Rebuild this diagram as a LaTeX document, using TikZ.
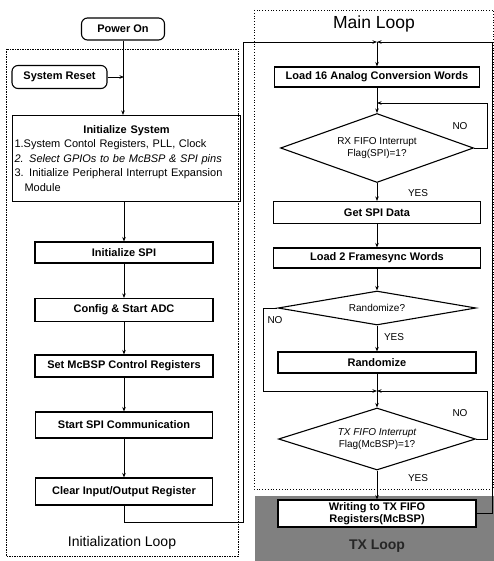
\documentclass[tikz,border=0pt]{standalone}
\usepackage{fontspec}
\setmainfont{Liberation Sans}
\usetikzlibrary{shapes.geometric,arrows.meta}
\tikzset{
  startbox/.style={draw, rounded corners=6pt, line width=1.1pt, inner sep=0pt,
    font=\bfseries\fontsize{11}{12}\selectfont},
  procbox/.style={draw, line width=1.1pt, inner sep=0pt, align=center,
    font=\bfseries\fontsize{11}{12.5}\selectfont},
  decision/.style={diamond, draw, line width=1.1pt, inner sep=0pt, aspect=2.8,
    align=center, font=\fontsize{10}{12.5}\selectfont},
  arr/.style={-{Stealth[length=4.5pt,width=3.5pt]}},
  lbl/.style={font=\fontsize{10}{11}\selectfont},
}
\begin{document}
\begin{tikzpicture}[x=1pt, y=-1pt, line width=0.8pt]
  \useasboundingbox (0,0) rectangle (494,561);
  % frames
  \draw[dashed, line width=0.7pt, dash pattern=on 1.5pt off 1pt] (6,49) rectangle (238,556);
  \draw[dotted, line width=0.8pt] (254,10) rectangle (493.5,489);
  \fill[black!50] (255,496) rectangle (494,561);
  \node[font=\fontsize{14}{16}\selectfont] (inittitle) at (122,543) {Initialization Loop};
  \node[font=\fontsize{17.5}{19}\selectfont] (maintitle) at (374,24) {Main Loop};
  \node[font=\bfseries\fontsize{14}{16}\selectfont, text=black!85] (txtitle) at (377,546) {TX Loop};

  % initialization loop
  \node[startbox, minimum width=83pt, minimum height=22pt] (power) at (123,29) {Power On};
  \node[startbox, minimum width=95pt, minimum height=23pt] (reset) at (59.5,77) {System Reset};
  \node[procbox, anchor=north west, minimum width=228pt, minimum height=86pt,
        inner xsep=2pt, text width=224pt, align=left,
        font=\fontsize{11}{14.5}\selectfont] (initsys) at (12,115)
    {\makebox[224pt]{\bfseries Initialize System}\\
     1.System Contol Registers, PLL, Clock\\
     \textit{2. Select GPIOs to be McBSP \& SPI pins}\\
     3. Initialize Peripheral Interrupt Expansion\\
     \hspace*{10pt}Module\\[-4pt]};
  \node[procbox, minimum width=178pt, minimum height=21pt] (initspi) at (124,252.5) {Initialize SPI};
  \node[procbox, minimum width=178pt, minimum height=23pt] (adc) at (124,310) {Config \& Start ADC};
  \node[procbox, minimum width=178pt, minimum height=22pt] (mcbsp) at (124,366) {Set McBSP Control Registers};
  \node[procbox, minimum width=177pt, minimum height=26pt] (spicom) at (124,425) {Start SPI Communication};
  \node[procbox, minimum width=177pt, minimum height=27pt] (clear) at (124,491.5) {Clear Input/Output Register};
  \coordinate (rsj) at (124,77);
  \draw[arr] (power) -- (initsys.north -| power);
  \draw[arr] (reset) -- (rsj);
  \draw[arr] (initsys.south -| initspi) -- (initspi);
  \draw[arr] (initspi) -- (adc);
  \draw[arr] (adc) -- (mcbsp);
  \draw[arr] (mcbsp) -- (spicom);
  \draw[arr] (spicom) -- (clear);

  % main loop
  \node[procbox, minimum width=205pt, minimum height=20pt] (load16) at (377,77) {Load 16 Analog Conversion Words};
  \node[decision, minimum width=193pt, minimum height=69pt] (rxflag) at (377,148) {RX FIFO Interrupt\\Flag(SPI)=1?};
  \node[procbox, minimum width=207pt, minimum height=22pt] (getspi) at (377,212.5) {Get SPI Data};
  \node[procbox, minimum width=207pt, minimum height=20pt] (load2) at (377,258) {Load 2 Framesync Words};
  \node[decision, minimum width=198pt, minimum height=34pt] (randq) at (377,308) {Randomize?};
  \node[procbox, minimum width=198pt, minimum height=21pt] (rand) at (377,362.5) {Randomize};
  \node[decision, minimum width=197pt, minimum height=62pt, font=\itshape\fontsize{10}{12.5}\selectfont] (txflag) at (377,439)
    {TX FIFO Interrupt\\\upshape Flag(McBSP)=1?};
  \node[procbox, fill=white, minimum width=198pt, minimum height=27pt] (writetx) at (377,513.5) {Writing to TX FIFO\\Registers(McBSP)};
  \coordinate (topj) at (377,42);
  \coordinate (rxj) at (377,103);
  \coordinate (midj) at (377,391);

  \draw[arr] (clear) -- (124,522) -| (243,42) -- (topj);
  \draw[arr] (writetx) -| (492,42) -- (topj);
  \draw[arr] (topj) -- (load16);
  \draw[arr] (load16) -- (rxflag);
  \draw[arr] (rxflag.east) -- (487,148) |- (rxj);
  \draw[arr] (rxflag) -- (getspi);
  \draw[arr] (getspi) -- (load2);
  \draw[arr] (load2) -- (randq);
  \draw[arr] (randq) -- (rand);
  \draw[arr] (randq.west) -- (263,308) |- (midj);
  \draw (rand) -- (midj);
  \draw[arr] (txflag.east) -- (487,439) |- (midj);
  \draw[arr] (midj) -- (txflag);
  \draw[arr] (txflag) -- (writetx);

  \node[lbl] (rxno) at (460,126) {NO};
  \node[lbl] (rxyes) at (418,193) {YES};
  \node[lbl] (randno) at (275,320) {NO};
  \node[lbl] (randyes) at (394,337) {YES};
  \node[lbl] (txno) at (460,413) {NO};
  \node[lbl] (txyes) at (418,478) {YES};
\end{tikzpicture}
\end{document}
